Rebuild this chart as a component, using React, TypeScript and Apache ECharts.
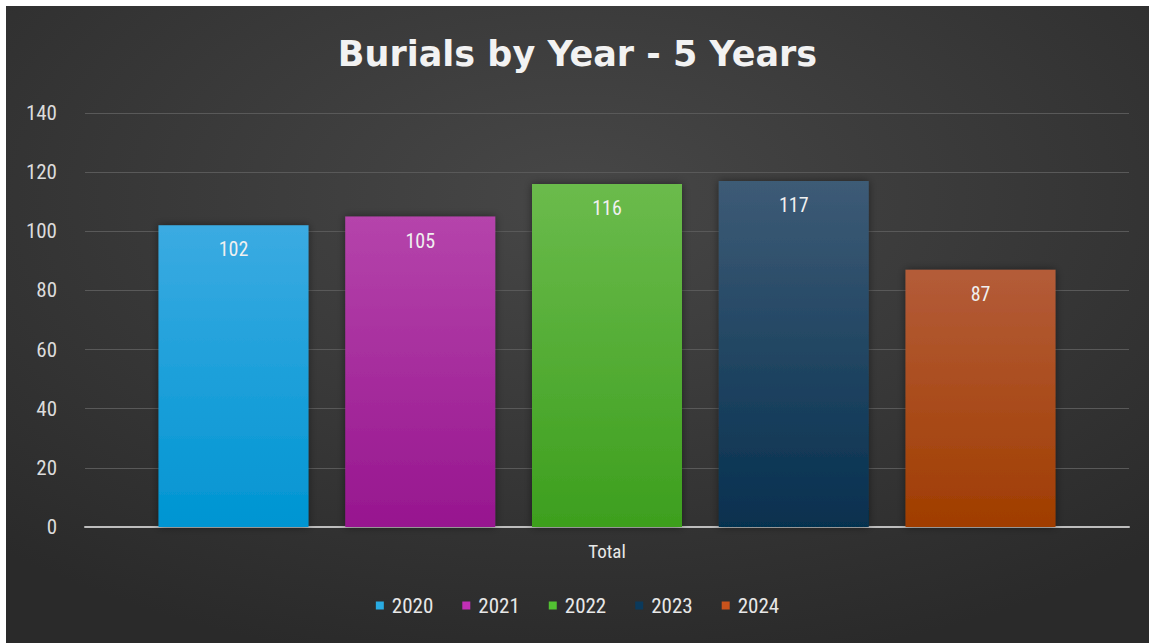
import React, { useEffect, useRef } from "react";
import * as echarts from "echarts";

const categories = ["Total"];
const seriesNames = ["2020", "2021", "2022", "2023", "2024"];
const values2020 = [102];
const values2021 = [105];
const values2022 = [116];
const values2023 = [117];
const values2024 = [87];
const yTicks = { min: 0, max: 140, interval: 20 };

const seriesValues = [values2020, values2021, values2022, values2023, values2024];
const gradients = [
  ["#3babe2", "#0095d2"],
  ["#b544ab", "#97168f"],
  ["#6bbb4c", "#3d9f1e"],
  ["#3d5b76", "#06304f"],
  ["#b45c39", "#a03d00"],
];
const legendColors = ["#29abe2", "#c12fb5", "#52c232", "#0b3a5c", "#c9531c"];

const FONT = "'Liberation Sans Narrow', 'Roboto Condensed', 'Liberation Sans', Arial, sans-serif";

export default function App() {
  const ref = useRef<HTMLDivElement>(null);
  useEffect(() => {
    document.body.style.margin = "0";
    document.body.style.background = "#ffffff";
    const chart = echarts.init(ref.current!, null, { renderer: "svg" });
    chart.setOption({
      animation: false,
      backgroundColor: {
        type: "radial",
        x: 0.5,
        y: 0.3,
        r: 0.75,
        colorStops: [
          { offset: 0, color: "#474747" },
          { offset: 1, color: "#2a2a2a" },
        ],
      },
      title: {
        text: "Burials by Year - 5 Years",
        left: "center",
        top: 25,
        textStyle: {
          color: "#f2f2f2",
          fontSize: 35,
          fontWeight: "bold",
          fontFamily: "'DejaVu Sans', 'Liberation Sans', Arial, sans-serif",
        },
      },
      legend: {
        bottom: 22,
        left: "center",
        itemWidth: 8,
        itemHeight: 8,
        itemGap: 29,
        icon: "rect",
        textStyle: { color: "#e8e8e8", fontSize: 21, fontFamily: FONT, padding: [0, 0, 0, 3] },
        data: seriesNames.map((n, i) => ({ name: n, itemStyle: { color: legendColors[i] } })),
      },
      grid: { left: 79, right: 20, top: 107, bottom: 116, containLabel: false },
      xAxis: {
        type: "category",
        data: categories,
        axisLine: { lineStyle: { color: "#bdbdbd", width: 2 } },
        axisTick: { show: false },
        axisLabel: { color: "#e8e8e8", fontSize: 19, fontFamily: FONT, margin: 15 },
      },
      yAxis: {
        type: "value",
        min: yTicks.min,
        max: yTicks.max,
        interval: yTicks.interval,
        axisLine: { show: false },
        axisTick: { show: false },
        axisLabel: { color: "#dcdcdc", fontSize: 21, fontFamily: FONT, margin: 28 },
        splitLine: { lineStyle: { color: "#595959", width: 1 } },
      },
      series: seriesNames.map((name, i) => ({
        name,
        type: "bar",
        data: seriesValues[i],
        barWidth: 150,
        barGap: "24.5%",
        itemStyle: {
          color: {
            type: "linear",
            x: 0,
            y: 0,
            x2: 0,
            y2: 1,
            colorStops: [
              { offset: 0, color: gradients[i][0] },
              { offset: 1, color: gradients[i][1] },
            ],
          },
          shadowBlur: 8,
          shadowColor: "rgba(0,0,0,0.45)",
        },
        label: {
          show: true,
          position: "insideTop",
          distance: 14,
          color: "#f0f0f0",
          fontSize: 20,
          fontFamily: FONT,
        },
      })),
    });
    return () => chart.dispose();
  }, []);
  return (
    <div style={{ width: 1149, height: 643, background: "#fff", position: "relative" }}>
      <div ref={ref} style={{ position: "absolute", left: 6, top: 6, width: 1143, height: 637 }} />
    </div>
  );
}
